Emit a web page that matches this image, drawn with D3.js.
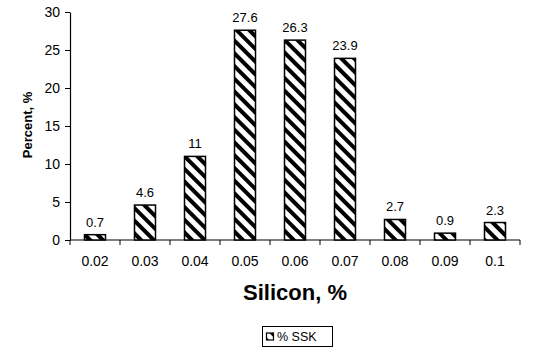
<!DOCTYPE html>
<html>
<head>
<meta charset="utf-8">
<script src="https://cdn.jsdelivr.net/npm/d3@7"></script>
<style>
  html, body { margin: 0; padding: 0; background: #fff; }
  svg { display: block; font-family: Arial, "Liberation Sans", sans-serif; }
</style>
</head>
<body>
<svg id="chart" width="534" height="352"></svg>
<script>
// Silicon content classes and share of SSK samples (%)
const categories = ["0.02", "0.03", "0.04", "0.05", "0.06", "0.07", "0.08", "0.09", "0.1"];
const values = [0.7, 4.6, 11, 27.6, 26.3, 23.9, 2.7, 0.9, 2.3];
const yTicks = [0, 5, 10, 15, 20, 25, 30];
const seriesName = "% SSK";
const xTitle = "Silicon, %";
const yTitle = "Percent, %";

const svg = d3.select("#chart");
const plotLeft = 70, plotRight = 520, plotTop = 12, plotBottom = 240;

// Diagonal hatch fill
const defs = svg.append("defs");
const pat = defs.append("pattern")
  .attr("id", "hatch")
  .attr("patternUnits", "userSpaceOnUse")
  .attr("width", 9).attr("height", 9)
  .attr("patternTransform", "rotate(-45)");
pat.append("rect").attr("width", 9).attr("height", 9).attr("fill", "#fff");
pat.append("rect").attr("x", 0).attr("y", 0).attr("width", 4).attr("height", 9).attr("fill", "#000");

const x = d3.scaleBand().domain(categories).range([plotLeft, plotRight]).paddingInner(0).paddingOuter(0);
const y = d3.scaleLinear().domain([0, 30]).range([plotBottom, plotTop]);

// Y axis
const yAxis = svg.append("g")
  .attr("transform", `translate(${plotLeft},0)`)
  .call(d3.axisLeft(y).tickValues(yTicks).tickSize(5).tickSizeOuter(0).tickPadding(5).tickFormat(d3.format("d")));
yAxis.select(".domain").attr("stroke", "#000").attr("stroke-width", 1.2);
yAxis.selectAll(".tick line").attr("stroke", "#000");
yAxis.selectAll(".tick text").attr("font-size", 14).attr("fill", "#000")
  .style("font-family", "Arial, 'Liberation Sans', sans-serif");

// X axis with ticks at category boundaries
const xAxis = svg.append("g").attr("transform", `translate(0,${plotBottom})`);
xAxis.append("line").attr("x1", plotLeft).attr("x2", plotRight).attr("stroke", "#000").attr("stroke-width", 1.2);
const bounds = categories.map(c => x(c)).concat([x(categories[categories.length - 1]) + x.bandwidth()]);
xAxis.selectAll("line.tk").data(bounds).join("line")
  .attr("class", "tk")
  .attr("x1", d => d).attr("x2", d => d).attr("y1", 0).attr("y2", 5)
  .attr("stroke", "#000");
xAxis.selectAll("text").data(categories).join("text")
  .attr("x", d => x(d) + x.bandwidth() / 2)
  .attr("y", 26)
  .attr("text-anchor", "middle")
  .attr("font-size", 14)
  .text(d => d);

// Bars
const barW = 21;
const data = categories.map((c, i) => ({ c, v: values[i] }));
svg.append("g").selectAll("rect").data(data).join("rect")
  .attr("x", d => x(d.c) + (x.bandwidth() - barW) / 2)
  .attr("y", d => y(d.v))
  .attr("width", barW)
  .attr("height", d => y(0) - y(d.v))
  .attr("fill", "url(#hatch)")
  .attr("stroke", "#000")
  .attr("stroke-width", 1.5);

// Value labels
svg.append("g").selectAll("text").data(data).join("text")
  .attr("x", d => x(d.c) + x.bandwidth() / 2)
  .attr("y", d => y(d.v) - 8)
  .attr("text-anchor", "middle")
  .attr("font-size", 13)
  .text(d => d.v);

// Axis titles
svg.append("text")
  .attr("x", 295).attr("y", 300)
  .attr("text-anchor", "middle")
  .attr("font-size", 22).attr("font-weight", "bold")
  .text(xTitle);

svg.append("text")
  .attr("transform", "translate(32,125) rotate(-90)")
  .attr("text-anchor", "middle")
  .attr("font-size", 13).attr("font-weight", "bold")
  .text(yTitle);

// Legend
const lg = svg.append("g");
lg.append("rect").attr("x", 262.5).attr("y", 326.5).attr("width", 70).attr("height", 20)
  .attr("fill", "#fff").attr("stroke", "#000").attr("stroke-width", 1);
lg.append("rect").attr("x", 266.5).attr("y", 333).attr("width", 7).attr("height", 7)
  .attr("fill", "url(#hatch)").attr("stroke", "#000").attr("stroke-width", 1.2);
lg.append("text").attr("x", 277).attr("y", 341).attr("font-size", 12.5).text(seriesName);
</script>
</body>
</html>
